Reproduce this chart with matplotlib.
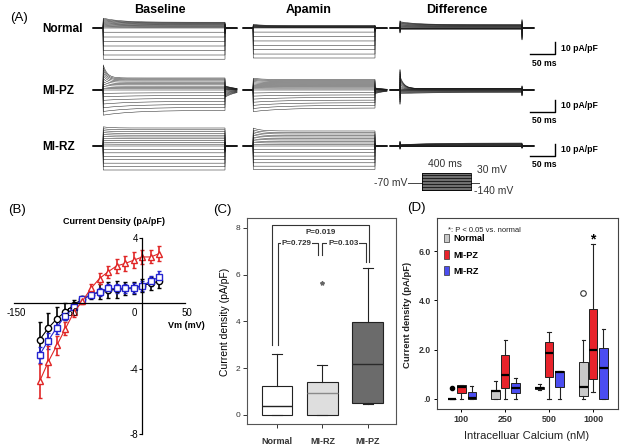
import numpy as np
import matplotlib.pyplot as plt
from matplotlib.patches import Patch

plt.rcParams['font.family'] = ['Liberation Sans', 'DejaVu Sans']

W, H = 624, 448
fig = plt.figure(figsize=(6.24, 4.48), dpi=100)


def fx(x):
    return x / W


def fy(y):
    return 1 - y / H


def px_axes(x0, y0, x1, y1):
    return fig.add_axes([x0 / W, 1 - y1 / H, (x1 - x0) / W, (y1 - y0) / H])


# ---------------- panel A : sweep currents (pA/pF, relative to holding at -70 mV)
step_mv = list(range(-140, 40, 10))
hold_mv = -70
STEP_MS = 244

normal_base_ss = [-26.0, -22.5, -18.7, -15.0, -11.2, -7.5, -3.5, 0.0, 0.6, 1.1, 1.6, 2.1, 2.6, 3.1, 3.6, 4.0, 4.4, 4.8]
normal_base_pk = [0, 0, 0, 0, 0, 0, 0, 0, 0.3, 0.6, 0.9, 1.2, 1.5, 1.8, 2.2, 2.6, 3.0, 3.4]
normal_apa_ss = [-25.0, -21.7, -18.0, -14.5, -10.8, -7.2, -3.4, 0.0, 0.2, 0.4, 0.6, 0.8, 1.0, 1.2, 1.4, 1.6, 1.8, 2.0]
normal_apa_pk = [0, 0, 0, 0, 0, 0, 0, 0, 0.1, 0.2, 0.3, 0.4, 0.5, 0.6, 0.7, 0.8, 0.9, 1.0]
pz_base_ss = [-17.0, -14.5, -12.0, -9.5, -7.0, -4.6, -2.3, 0.0, 1.0, 2.1, 3.2, 4.3, 5.4, 6.5, 7.5, 8.4, 9.2, 10.0]
pz_base_pk = [-4.0, -3.4, -2.8, -2.2, -1.6, -1.0, -0.5, 0, 0.5, 1.0, 2.0, 3.0, 4.5, 6.0, 7.5, 9.0, 10.3, 11.6]
pz_apa_ss = [-15.0, -12.8, -10.6, -8.4, -6.2, -4.1, -2.0, 0.0, 0.9, 1.8, 2.7, 3.6, 4.5, 5.4, 6.3, 7.2, 8.0, 8.8]
pz_apa_pk = [-3.0, -2.6, -2.2, -1.8, -1.4, -1.0, -0.5, 0, 0.1, 0.2, 0.3, 0.4, 0.5, 0.6, 0.7, 0.8, 0.9, 1.0]
rz_base_ss = [-20.0, -17.2, -14.3, -11.4, -8.6, -5.7, -2.9, 0.0, 1.5, 3.0, 4.5, 6.0, 7.5, 9.0, 10.5, 12.0, 13.5, 15.0]
rz_base_pk = [0, 0, 0, 0, 0, 0, 0, 0, 0.1, 0.2, 0.3, 0.4, 0.5, 0.6, 0.7, 0.8, 0.9, 1.0]
rz_apa_ss = [-19.5, -16.8, -14.0, -11.2, -8.4, -5.6, -2.8, 0.0, 1.2, 2.5, 3.7, 5.0, 6.2, 7.5, 8.7, 10.0, 11.2, 12.5]
rz_apa_pk = [0, 0, 0, 0, 0, 0, 0, 0, 0.25, 0.5, 0.75, 1.0, 1.25, 1.5, 1.75, 2.0, 2.25, 2.5]

row_names = ['Normal', 'MI-PZ', 'MI-RZ']
col_names = ['Baseline', 'Apamin', 'Difference']
base_ss = [normal_base_ss, pz_base_ss, rz_base_ss]
base_pk = [normal_base_pk, pz_base_pk, rz_base_pk]
apa_ss = [normal_apa_ss, pz_apa_ss, rz_apa_ss]
apa_pk = [normal_apa_pk, pz_apa_pk, rz_apa_pk]

# sweep shape settings per row and column: (tau, cap_on, cap_off, tail)
shape = [
    [(35, 0.0, 0.05, 0.03), (20, 0.0, 0.03, 0.03), (35, 0.06, 0.10, 0.0)],
    [(8, 0.0, 0.0, 0.35), (15, 0.0, 0.0, 0.2), (8, 0.17, 0.05, 0.0)],
    [(15, 0.0, 0.05, 0.03), (15, 0.0, 0.03, 0.03), (15, 0.04, 0.02, 0.0)],
]
row_hold_px = [28, 90, 146]
col_start_ms = [206, 506, 800]
bar_y = [-21.7, -18.3, -8.3]
PX_PER_PA = 1.2


def sweep(ss, pk, dv, tau, cap_on, cap_off, tail):
    t_on = np.linspace(0.5, STEP_MS, 160)
    i_on = ss + pk * np.exp(-t_on / (tau if pk > 0 else 60))
    t_off = np.linspace(0.5, 24, 16)
    i_off = tail * ss * np.exp(-t_off / 24)
    t = np.concatenate([[-20, 0, 0], t_on, [STEP_MS, STEP_MS], STEP_MS + t_off])
    i = np.concatenate([[0, 0, cap_on * dv], i_on, [i_on[-1], -cap_off * dv], i_off])
    return t, i


for r in range(3):
    hy = row_hold_px[r]
    ax = px_axes(0, hy - 40, W, hy + 40)
    ax.set_xlim(0, 2 * W)
    ax.set_ylim(-40 / PX_PER_PA, 40 / PX_PER_PA)
    ax.axis('off')
    ss_sets = [np.array(base_ss[r]), np.array(apa_ss[r]), np.array(base_ss[r]) - np.array(apa_ss[r])]
    pk_sets = [np.array(base_pk[r]), np.array(apa_pk[r]), np.array(base_pk[r]) - np.array(apa_pk[r])]
    for c in range(3):
        tau, con, coff, tail = shape[r][c]
        for k, v in enumerate(step_mv):
            t, i = sweep(ss_sets[c][k], pk_sets[c][k], v - hold_mv, tau, con, coff, tail)
            ax.plot(t + col_start_ms[c], i, color='#1a1a1a', lw=0.35)
    # scale bar
    ax.plot([1060, 1110, 1110], [bar_y[r], bar_y[r], bar_y[r] + 10], color='black', lw=1.0)
    ax.text(1122, bar_y[r] + 5, '10 pA/pF', fontsize=6.2, fontweight='bold', va='center')
    ax.text(1064, bar_y[r] - 7.5, '50 ms', fontsize=6.2, fontweight='bold', va='center')
    fig.text(fx(42), fy(hy + 1), row_names[r], fontsize=8.5, fontweight='bold', va='center')

for name, cx in zip(col_names, [160, 309, 457]):
    fig.text(fx(cx), fy(10), name, fontsize=9, fontweight='bold', ha='center', va='center')
fig.text(fx(10), fy(18), '(A)', fontsize=9.5, va='center')

# voltage protocol inset
axp = px_axes(408, 160, 480, 197)
axp.set_xlim(-114, 473)
axp.set_ylim(-210, 160)
axp.axis('off')
axp.plot([-114, 0], [hold_mv, hold_mv], color='#444', lw=0.7)
axp.plot([400, 473], [hold_mv, hold_mv], color='#444', lw=0.7)
axp.fill_between([0, 400], min(step_mv), max(step_mv), color='#6f6f6f', lw=0)
for v in step_mv[::3]:
    axp.plot([0, 400], [v, v], color='black', lw=0.5)
axp.plot([0, 400, 400, 0, 0], [min(step_mv), min(step_mv), max(step_mv), max(step_mv), min(step_mv)],
         color='black', lw=0.6)
fig.text(fx(445), fy(164), '400 ms', fontsize=7.5, ha='center', va='center', color='#333')
fig.text(fx(477), fy(170), '30 mV', fontsize=7.5, va='center', color='#333')
fig.text(fx(474), fy(191), '-140 mV', fontsize=7.5, va='center', color='#333')
fig.text(fx(407), fy(183), '-70 mV', fontsize=7.5, ha='right', va='center', color='#333')

# ---------------- panel B : I-V relationship
vm = list(range(-120, 30, 10))
b_normal = [-2.23, -1.52, -0.95, -0.51, -0.08, 0.26, 0.51, 0.71, 0.81, 0.85, 0.91, 0.95, 1.08, 1.22, 1.36]
b_normal_err = [1.1, 0.9, 0.7, 0.5, 0.3, 0.2, 0.25, 0.45, 0.5, 0.5, 0.4, 0.35, 0.4, 0.4, 0.4]
b_rz = [-3.15, -2.29, -1.48, -0.75, -0.20, 0.26, 0.51, 0.71, 0.91, 0.91, 0.91, 0.95, 1.08, 1.36, 1.62]
b_rz_err = [0.5, 0.5, 0.4, 0.3, 0.2, 0.15, 0.2, 0.25, 0.25, 0.3, 0.3, 0.3, 0.3, 0.3, 0.35]
b_pz = [-4.77, -3.59, -2.58, -1.56, -0.55, 0.14, 0.91, 1.52, 1.93, 2.29, 2.44, 2.64, 2.84, 2.84, 3.05]
b_pz_err = [1.05, 0.95, 0.6, 0.4, 0.3, 0.2, 0.25, 0.35, 0.35, 0.45, 0.45, 0.5, 0.45, 0.4, 0.45]

axb = px_axes(14, 238, 185, 434)
axb.set_xlim(-150, 50)
axb.set_ylim(-8, 4)
axb.patch.set_alpha(0)
for s in ['top', 'right']:
    axb.spines[s].set_visible(False)
axb.spines['left'].set_position(('data', 0))
axb.spines['bottom'].set_position(('data', 0))
axb.spines['left'].set_linewidth(0.9)
axb.spines['bottom'].set_linewidth(0.9)
axb.set_xticks([])
axb.set_yticks([-8, -4, 4])
axb.set_yticklabels(['-8', '-4', '4'], fontsize=7)
axb.tick_params(axis='y', length=2, width=0.8, pad=1)
for lab, xv in zip(['-150', '-50', '0', '50'], [-147, -83, -9, 52]):
    axb.text(xv, -0.6, lab, fontsize=7, ha='center', va='center')

for vals, err, col, mk in [(b_normal, b_normal_err, 'black', 'o'),
                           (b_rz, b_rz_err, '#2424d0', 's'),
                           (b_pz, b_pz_err, '#e02626', '^')]:
    axb.errorbar(vm, vals, yerr=err, color=col, marker=mk, mfc='white', mec=col, ms=4.5,
                 mew=1.0, lw=0.8, elinewidth=1.2, capsize=1.5, capthick=1.0)

fig.text(fx(114), fy(221), 'Current Density (pA/pF)', fontsize=6.5, fontweight='bold', ha='center', va='center')
fig.text(fx(186), fy(325), 'Vm (mV)', fontsize=6.5, fontweight='bold', ha='center', va='center')
fig.text(fx(8), fy(210), '(B)', fontsize=9.5, va='center')

# ---------------- panel C : box plot of current density
c_groups = ['Normal', 'MI-RZ', 'MI-PZ']
c_whislo = [0.0, 0.0, 0.47]
c_q1 = [0.0, 0.0, 0.52]
c_med = [0.40, 0.93, 2.20]
c_q3 = [1.22, 1.42, 3.97]
c_whishi = [2.60, 2.12, 6.30]
c_fliers = [[], [5.63], []]
c_fill = ['white', '#dedede', '#6b6b6b']
c_median_col = ['#222222', '#8a8a8a', '#2a2a2a']

axc = px_axes(247, 218, 396, 424)
c_stats = [dict(label=g, whislo=a, q1=b, med=m, q3=d, whishi=e, fliers=f)
           for g, a, b, m, d, e, f in zip(c_groups, c_whislo, c_q1, c_med, c_q3, c_whishi, c_fliers)]
bpc = axc.bxp(c_stats, positions=[1, 2, 3], widths=0.68, patch_artist=True, capwidths=0.22,
              boxprops=dict(lw=0.8, edgecolor='#222'),
              whiskerprops=dict(lw=0.8, color='#222'),
              capprops=dict(lw=0.8, color='#222'),
              medianprops=dict(lw=1.0),
              flierprops=dict(marker='*', ms=3, mec='#666', mfc='#666'))
for patch, col in zip(bpc['boxes'], c_fill):
    patch.set_facecolor(col)
for med, col in zip(bpc['medians'], c_median_col):
    med.set_color(col)
axc.set_xlim(0.34, 3.62)
axc.set_ylim(-0.385, 8.42)
axc.set_yticks([0, 2, 4, 6, 8])
axc.set_yticklabels(['0', '2', '4', '6', '8'], fontsize=6)
axc.set_xticklabels(c_groups, fontsize=6.5, fontweight='bold', color='#333')
axc.tick_params(length=3, width=0.7, colors='#333', pad=2)
axc.tick_params(axis='x', pad=6)
for s in axc.spines.values():
    s.set_linewidth(0.8)
    s.set_color('#555')

# significance brackets
brk = dict(color='#333', lw=0.8)
axc.plot([0.90, 0.90, 3.02, 3.02], [3.0, 8.12, 8.12, 6.54], **brk)
axc.plot([1.03, 1.03, 1.90, 1.90], [3.0, 7.35, 7.35, 6.84], **brk)
axc.plot([1.99, 1.99, 2.96, 2.96], [6.84, 7.35, 7.35, 6.54], **brk)
ptxt = dict(fontsize=5.8, fontweight='bold', ha='center', va='center', color='#333',
            bbox=dict(fc='white', ec='none', pad=0.6))
axc.text(1.96, 7.82, 'P=0.019', **ptxt)
axc.text(1.43, 7.35, 'P=0.729', **ptxt)
axc.text(2.46, 7.35, 'P=0.103', **ptxt)
fig.text(fx(225), fy(322), 'Current density (pA/pF)', fontsize=7.5, rotation=90, ha='center', va='center')
fig.text(fx(213), fy(210), '(C)', fontsize=9.5, va='center')

# ---------------- panel D : current density vs intracellular calcium
d_calcium = ['100', '250', '500', '1000']
# (whisker low, q1, median, q3, whisker high) per calcium level
d_normal = [(0, 0, 0, 0, 0), (0, 0, 0.33, 0.37, 0.73), (0.36, 0.40, 0.45, 0.50, 0.60), (0, 0.13, 0.47, 1.51, 2.39)]
d_pz = [(0, 0.25, 0.50, 0.55, 0.55), (0, 0.43, 0.97, 1.78, 2.39), (0, 0.90, 1.85, 2.30, 2.73), (0.27, 0.80, 1.99, 3.65, 6.27)]
d_rz = [(0, 0, 0.03, 0.27, 0.54), (0, 0.23, 0.43, 0.64, 0.84), (0, 0.47, 1.10, 1.13, 1.13), (0, 0, 1.24, 2.08, 2.82)]
d_normal_outlier = [0.46, None, None, None]
d_normal_extreme = [None, None, None, 4.28]
d_groups = ['Normal', 'MI-PZ', 'MI-RZ']
d_colors = ['#c9c9c9', '#e8232b', '#4b4df0']
d_offsets = [-0.22, 0.0, 0.235]

axd = px_axes(437, 218, 618, 409)
for data, col, off in zip([d_normal, d_pz, d_rz], d_colors, d_offsets):
    stats = [dict(whislo=a, q1=b, med=m, q3=d, whishi=e, fliers=[]) for a, b, m, d, e in data]
    bp = axd.bxp(stats, positions=np.arange(len(d_calcium)) + off, widths=0.19, patch_artist=True,
                 showfliers=False, capwidths=0.08, manage_ticks=False,
                 boxprops=dict(lw=0.7, edgecolor='#222', facecolor=col),
                 whiskerprops=dict(lw=0.8, color='#222'),
                 capprops=dict(lw=0.8, color='#222'),
                 medianprops=dict(lw=1.6, color='black'))
for k, v in enumerate(d_normal_outlier):
    if v is not None:
        axd.plot(k + d_offsets[0], v, 'o', ms=3, color='black')
for k, v in enumerate(d_normal_extreme):
    if v is not None:
        axd.plot(k + d_offsets[0], v, 'o', ms=4, mfc='white', mec='#333', mew=0.8)
axd.text(3, 6.45, '*', fontsize=10, fontweight='bold', ha='center', va='center')

axd.set_xlim(-0.556, 3.567)
axd.set_ylim(-0.41, 7.34)
axd.set_xticks(range(len(d_calcium)))
axd.set_xticklabels(d_calcium, fontsize=6.5, fontweight='bold', color='#333')
axd.set_yticks([0, 2, 4, 6])
axd.set_yticklabels(['.0', '2.0', '4.0', '6.0'], fontsize=6.2, fontweight='bold', color='#333')
axd.tick_params(length=2.5, width=0.7, pad=2)
for s in axd.spines.values():
    s.set_linewidth(0.8)
    s.set_color('#444')

axd.text(0.06, 0.937, '*: P < 0.05 vs. normal', fontsize=5.5, transform=axd.transAxes, va='center', color='#222')
handles = [Patch(facecolor=c, edgecolor='#333', lw=0.5) for c in d_colors]
leg = axd.legend(handles, d_groups, loc='upper left', bbox_to_anchor=(0.04, 0.915), frameon=False,
                 prop=dict(size=6.6, weight='bold'), handlelength=0.55, handleheight=1.0,
                 handletextpad=0.45, labelspacing=0.75, borderpad=0, borderaxespad=0)

fig.text(fx(407), fy(315), 'Current density (pA/pF)', fontsize=6.8, fontweight='bold', rotation=90,
         ha='center', va='center', color='#222')
fig.text(fx(527), fy(436), 'Intracelluar Calcium (nM)', fontsize=8, ha='center', va='center', color='#222')
fig.text(fx(407), fy(208), '(D)', fontsize=9.5, va='center')

fig.savefig('out.png', dpi=100)
